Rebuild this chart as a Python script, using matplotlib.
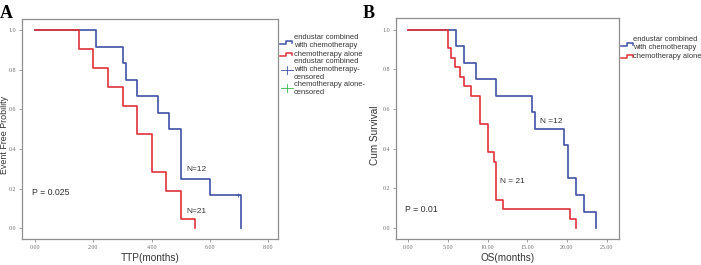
"""Kaplan-Meier curves: TTP (A) and OS (B), endustar + chemo vs chemo alone."""
import matplotlib
matplotlib.use("Agg")
import matplotlib.pyplot as plt
from matplotlib.lines import Line2D

BLUE = "#3f51a6"
RED = "#e2313a"
GREEN = "#3cb44b"
FRAME = "#8f8f8f"
TXT = "#333333"

# ---- panel A: time to progression (months) ----
ttp_combo_t = [0.0, 2.1, 3.0, 3.1, 3.5, 4.2, 4.6, 5.0, 6.0, 7.05]
ttp_combo_s = [1.0, 0.917, 0.833, 0.75, 0.667, 0.583, 0.5, 0.25, 0.167, 0.0]
ttp_combo_cens_t = [6.97]
ttp_combo_cens_s = [0.167]
ttp_chemo_t = [0.0, 1.5, 2.0, 2.5, 3.0, 3.5, 4.0, 4.5, 5.0, 5.5]
ttp_chemo_s = [1.0, 0.905, 0.81, 0.714, 0.619, 0.476, 0.286, 0.19, 0.048, 0.0]

# ---- panel B: overall survival (months) ----
os_combo_t = [0.0, 6.0, 7.05, 8.5, 11.0, 15.6, 16.0, 19.6, 20.1, 21.1, 22.1, 23.6]
os_combo_s = [1.0, 0.917, 0.833, 0.75, 0.667, 0.583, 0.5, 0.417, 0.25, 0.167, 0.083, 0.0]
os_chemo_t = [0.0, 4.95, 5.4, 5.95, 6.5, 7.0, 7.9, 9.05, 10.0, 10.8, 11.0, 12.0, 20.4, 21.1]
os_chemo_s = [1.0, 0.905, 0.857, 0.81, 0.762, 0.714, 0.667, 0.524, 0.381, 0.333, 0.143, 0.095, 0.048, 0.0]

y_ticks = [0.0, 0.2, 0.4, 0.6, 0.8, 1.0]
ttp_ticks = [0.0, 2.0, 4.0, 6.0, 8.0]
os_ticks = [0.0, 5.0, 10.0, 15.0, 20.0, 25.0]

W, H = 701, 265


def fx(px):
    return px / W


def fy(py):
    return 1 - py / H


def _style(ax, xticks, xlim):
    ax.set_xlim(*xlim)
    ax.set_ylim(-0.055, 1.06)
    ax.set_xticks(xticks)
    ax.set_xticklabels([f"{t:.2f}" for t in xticks])
    ax.set_yticks(y_ticks)
    ax.set_yticklabels([f"{t:.1f}" for t in y_ticks])
    for sp in ax.spines.values():
        sp.set_color(FRAME)
        sp.set_linewidth(0.9)
    ax.tick_params(length=2.5, width=0.6, color=FRAME, labelsize=4.3,
                   labelcolor="#707070", pad=1.8)
    for lab in ax.get_xticklabels() + ax.get_yticklabels():
        lab.set_family("Liberation Serif")


def _step_icon(fig, x, y, color):
    # little step glyph used by SPSS legends
    xs = [x, x + 6, x + 6, x + 12, x + 12]
    ys = [y + 2, y + 2, y - 1.5, y - 1.5, y + 1]
    fig.add_artist(Line2D([fx(v) for v in xs], [fy(v) for v in ys],
                          color=color, lw=1.1))


def _plus_icon(fig, x, y, color):
    fig.add_artist(Line2D([fx(x), fx(x + 12)], [fy(y), fy(y)], color=color, lw=0.6))
    fig.add_artist(Line2D([fx(x + 6), fx(x + 6)], [fy(y - 4), fy(y + 4)], color=color, lw=0.6))


def _legend_text(fig, x, y, s):
    fig.text(fx(x), fy(y), s, fontsize=5.4, family="Liberation Sans",
             color=TXT, va="center", ha="left", linespacing=1.2)


fig = plt.figure(figsize=(W / 100, H / 100), dpi=100)

# panel A
axA = fig.add_axes([fx(22), fy(239), fx(278) - fx(22), fy(18.5) - fy(239)])
axA.step(ttp_combo_t, ttp_combo_s, where="post", color=BLUE, lw=1.2, zorder=2)
axA.step(ttp_chemo_t, ttp_chemo_s, where="post", color=RED, lw=1.2, zorder=3)
axA.plot(ttp_combo_cens_t, ttp_combo_cens_s, "+", color=BLUE, ms=3.5, mew=0.6)
_style(axA, ttp_ticks, (-0.45, 8.33))
axA.set_xlabel("TTP(months)", fontsize=7.2, family="Liberation Sans", color=TXT, labelpad=2)
axA.set_ylabel("Event Free Probility", fontsize=6.4, family="Liberation Sans", color=TXT)
# label anchor is its right edge once rotated
axA.yaxis.set_label_coords(-0.052, 0.47)
axA.text(5.2, 0.298, "N=12", fontsize=6, family="Liberation Sans", color=TXT, va="center")
axA.text(5.2, 0.086, "N=21", fontsize=6, family="Liberation Sans", color=TXT, va="center")
axA.text(-0.1, 0.178, "P = 0.025", fontsize=6.3, family="Liberation Sans", color=TXT, va="center")
fig.text(fx(0), fy(14), "A", fontsize=13, family="Liberation Serif", weight="bold", va="center")

_step_icon(fig, 280, 42, BLUE)
_legend_text(fig, 294, 41.5, "endustar combined\nwith chemotherapy")
_step_icon(fig, 280, 54, RED)
_legend_text(fig, 294, 54, "chemotherapy alone")
_plus_icon(fig, 281, 70, BLUE)
_legend_text(fig, 294, 70, "endustar combined\nwith chemotherapy-\ncensored")
_plus_icon(fig, 281, 88, GREEN)
_legend_text(fig, 294, 89, "chemotherapy alone-\ncensored")

# panel B
axB = fig.add_axes([fx(396), fy(239), fx(619.3) - fx(396), fy(17.7) - fy(239)])
axB.step(os_combo_t, os_combo_s, where="post", color=BLUE, lw=1.2, zorder=2)
axB.step(os_chemo_t, os_chemo_s, where="post", color=RED, lw=1.2, zorder=3)
_style(axB, os_ticks, (-1.55, 26.6))
axB.set_xlabel("OS(months)", fontsize=7.2, family="Liberation Sans", color=TXT, labelpad=2)
axB.set_ylabel("Cum Survival", fontsize=7.2, family="Liberation Sans", color=TXT)
axB.yaxis.set_label_coords(-0.072, 0.47)
axB.text(16.6, 0.539, "N =12", fontsize=6, family="Liberation Sans", color=TXT, va="center")
axB.text(11.6, 0.233, "N = 21", fontsize=6, family="Liberation Sans", color=TXT, va="center")
axB.text(-0.45, 0.095, "P = 0.01", fontsize=6.3, family="Liberation Sans", color=TXT, va="center")
fig.text(fx(363), fy(14), "B", fontsize=13, family="Liberation Serif", weight="bold", va="center")

_step_icon(fig, 621, 44, BLUE)
_legend_text(fig, 633, 43.5, "endustar combined\nwith chemotherapy")
_step_icon(fig, 621, 56, RED)
_legend_text(fig, 633, 56, "chemotherapy alone")

fig.savefig("out.png", dpi=100)
